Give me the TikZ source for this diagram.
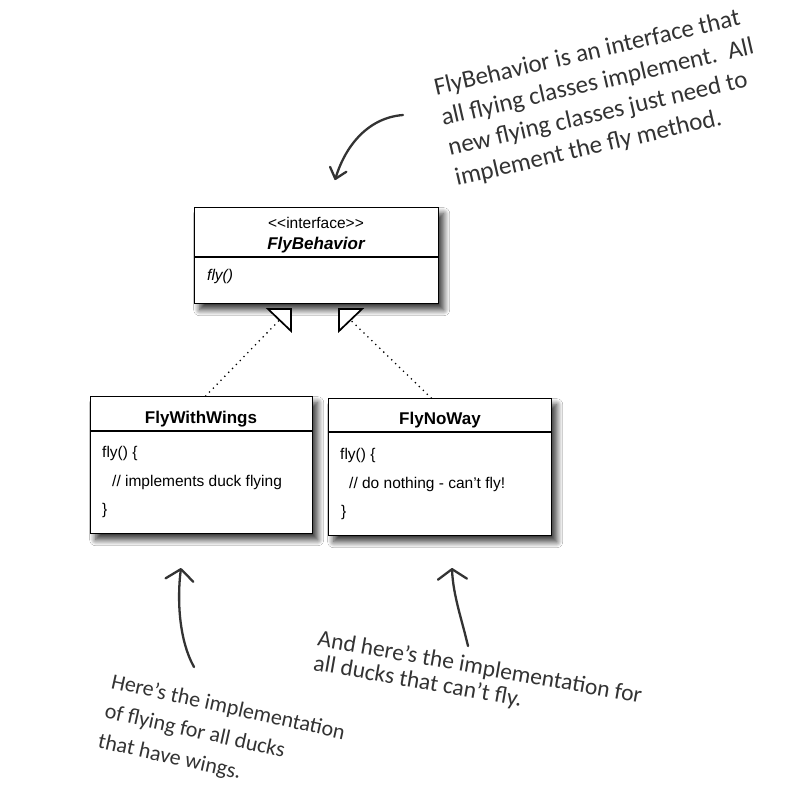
\documentclass[tikz,border=0pt]{standalone}
\usepackage{fontspec}
\setmainfont{Liberation Sans}
\newfontfamily\handfont{Carlito}
\usetikzlibrary{arrows.meta,shadows.blur}
\definecolor{handgray}{HTML}{333333}
\begin{document}
\begin{tikzpicture}[x=1pt,y=-1pt,
  umlbox/.style={draw=black, line width=1.4pt, fill=white, rectangle, inner sep=0pt, anchor=north west,
    blur shadow={shadow xshift=5pt, shadow yshift=-6pt, shadow blur radius=6pt, shadow blur steps=14, shadow opacity=80}},
  divider/.style={draw=black, line width=1.4pt},
  umltxt/.style={inner sep=0pt, font=\fontsize{15.5}{18}\selectfont},
  umltitle/.style={inner sep=0pt, anchor=base, font=\fontsize{17}{20}\selectfont\bfseries},
  realize/.style={draw=black, line width=1.8pt, dash pattern=on 0pt off 5.5pt, line cap=round},
  tri/.style={draw=black, fill=white, line width=1.7pt, line join=miter},
  handarrow/.style={draw=handgray, line width=2.3pt, line cap=round, line join=round},
  handtxt/.style={inner sep=0pt, anchor=base west, align=left, text=handgray}
]
\fill[white] (0,0) rectangle (796,807);
\useasboundingbox (0,0) rectangle (796,807);

% interface box
\node[umlbox, minimum width=244pt, minimum height=96pt] (iface) at (194,207) {};
\draw[divider] ([yshift=-50pt]iface.north west) -- ([yshift=-50pt]iface.north east);
\node[umltxt, anchor=base] (istereo) at (316,228) {<{}<interface>{}>};
\node[umltitle, font=\fontsize{17}{20}\selectfont\bfseries\itshape] (iname) at (316,249) {FlyBehavior};
\node[umltxt, anchor=base west, font=\fontsize{15.5}{18}\selectfont\itshape] (ifly) at (207,280) {fly()};

% FlyWithWings
\node[umlbox, minimum width=222pt, minimum height=137pt] (fww) at (90,396) {};
\draw[divider] ([yshift=-35pt]fww.north west) -- ([yshift=-35pt]fww.north east);
\node[umltitle] (fwwname) at (201,423) {FlyWithWings};
\node[umltxt, anchor=base west] (fwwa) at (102,457) {fly() \{};
\node[umltxt, anchor=base west] (fwwb) at (112,486) {// implements duck flying};
\node[umltxt, anchor=base west] (fwwc) at (102,514) {\}};

% FlyNoWay
\node[umlbox, minimum width=223pt, minimum height=137pt] (fnw) at (328,398) {};
\draw[divider] ([yshift=-34pt]fnw.north west) -- ([yshift=-34pt]fnw.north east);
\node[umltitle] (fnwname) at (440,424) {FlyNoWay};
\node[umltxt, anchor=base west] (fnwa) at (340,459) {fly() \{};
\node[umltxt, anchor=base west] (fnwb) at (349,488) {// do nothing - can’t fly!};
\node[umltxt, anchor=base west] (fnwc) at (341,516) {\}};

% realization connectors with hollow triangles
\coordinate (midL) at (279.5,320);
\coordinate (midR) at (350.5,320);
\draw[realize] ([xshift=4pt]fww.north) -- (midL);
\draw[realize] ([xshift=-9pt]fnw.north) -- (midR);
\draw[tri] (268,309) -- (291,309) -- (291,331) -- cycle;
\draw[tri] (362,309) -- (339,309) -- (339,331) -- cycle;

% hand-drawn arrows
\coordinate (a1s) at (403,115);
\coordinate (a1e) at (335,180);
\draw[handarrow, -{Straight Barb[length=10pt, width=17pt, line cap=round, line join=round]}]
  (a1s) .. controls (365,118) and (344,150) .. (a1e);
\coordinate (a2s) at (194,667);
\coordinate (a2e) at (181,568);
\draw[handarrow, -{Straight Barb[length=11pt, width=28pt, line cap=round, line join=round]}]
  (a2s) .. controls (179,640) and (177,600) .. (a2e);
\coordinate (a3s) at (468,646);
\coordinate (a3e) at (452,568);
\draw[handarrow, -{Straight Barb[length=10pt, width=29pt, line cap=round, line join=round]}]
  (a3s) .. controls (462,620) and (453,595) .. (a3e);

% annotations (anchored at the baseline of their last line)
\node[handtxt, rotate=13, font=\handfont\fontsize{25}{31}\selectfont] (note1) at (457,186)
  {FlyBehavior is an interface that\\all flying classes implement.\ \ All\\new flying classes just need to\\implement the fly method.};
\node[handtxt, rotate=-12.5, font=\handfont\fontsize{22}{30.5}\selectfont] (note2) at (97,747.5)
  {Here’s the implementation\\of flying for all ducks\\that have wings.};
\node[handtxt, rotate=-10, font=\handfont\fontsize{23.5}{24.5}\selectfont] (note3) at (312.5,670)
  {And here’s the implementation for\\all ducks that can’t fly.};
\end{tikzpicture}
\end{document}
